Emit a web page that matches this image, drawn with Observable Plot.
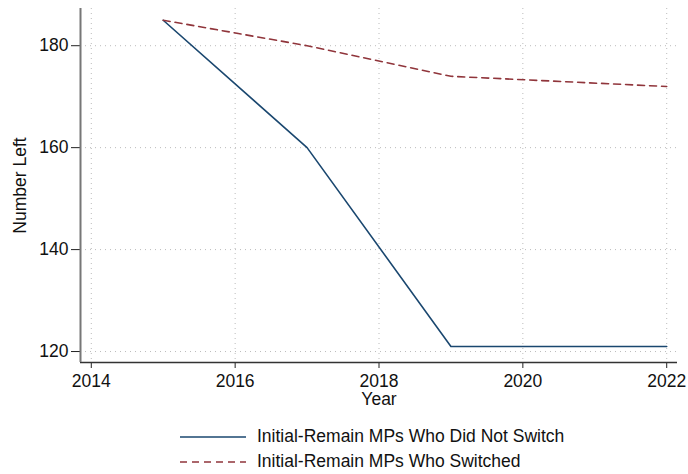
<!DOCTYPE html>
<html><head><meta charset="utf-8">
<script src="https://cdn.jsdelivr.net/npm/d3@7"></script>
<script src="https://cdn.jsdelivr.net/npm/@observablehq/plot@0.6"></script>
<style>
body{margin:0;background:#fff;font-family:"Liberation Sans",Arial,sans-serif;}
#chart svg text{font-size:17.5px;}
#legend{position:absolute;left:180px;top:424px;font-size:17.5px;color:#111;}
.row{display:flex;align-items:center;height:25px;}
.row svg{margin-right:11px;}
</style>
</head><body>
<div id="chart"></div>
<div id="legend"></div>
<script>
const years = [2015, 2017, 2019, 2022];
const notSwitched = [185, 160, 121, 121];
const switched = [185, 180, 174, 172];
const seriesNames = ["Initial-Remain MPs Who Did Not Switch", "Initial-Remain MPs Who Switched"];
const colors = ["#1a476f", "#90353b"];
const xTicks = [2014, 2016, 2018, 2020, 2022];
const yTicks = [120, 140, 160, 180];

const rows = [];
years.forEach((y, i) => rows.push({year: y, value: notSwitched[i], s: seriesNames[0]}));
years.forEach((y, i) => rows.push({year: y, value: switched[i], s: seriesNames[1]}));

const chart = Plot.plot({
  width: 688, height: 410,
  marginLeft: 80, marginRight: 11, marginTop: 8, marginBottom: 48,
  style: {fontFamily: '"Liberation Sans",Arial,sans-serif', fontSize: "17.5px", color: "#111"},
  x: {domain: [2013.85, 2022.15], ticks: xTicks, tickFormat: d => String(d), label: null},
  y: {domain: [117.85, 187.3], ticks: yTicks, label: null},
  marks: [
    Plot.gridX(xTicks, {stroke: "#bbb", strokeOpacity: 1, strokeDasharray: "1,4", strokeWidth: 1}),
    Plot.gridY(yTicks, {stroke: "#bbb", strokeOpacity: 1, strokeDasharray: "1,4", strokeWidth: 1}),
    Plot.axisX(xTicks, {tickSize: 6, tickPadding: 6, stroke: "#222", fontSize: 17.5, tickFormat: d => String(d)}),
    Plot.axisY(yTicks, {tickSize: 9, tickPadding: 3, stroke: "#222", fontSize: 17.5}),
    Plot.ruleY([117.85], {stroke: "#333", strokeWidth: 1.5}),
    Plot.ruleX([2013.85], {stroke: "#777", strokeWidth: 2}),
    Plot.text(["Year"], {frameAnchor: "bottom", lineAnchor: "middle", dy: 37, fontSize: 17.5}),
    Plot.text(["Number Left"], {frameAnchor: "left", textAnchor: "middle", lineAnchor: "middle", dx: -60, rotate: -90, fontSize: 17.5}),
    Plot.line(rows.filter(d => d.s === seriesNames[0]), {x: "year", y: "value", stroke: colors[0], strokeWidth: 1.6}),
    Plot.line(rows.filter(d => d.s === seriesNames[1]), {x: "year", y: "value", stroke: colors[1], strokeWidth: 1.6, strokeDasharray: "7,5"})
  ]
});
document.getElementById("chart").appendChild(chart);

const leg = document.getElementById("legend");
seriesNames.forEach((n, i) => {
  const r = document.createElement("div");
  r.className = "row";
  r.innerHTML = `<svg width="66" height="10"><line x1="0" x2="66" y1="5" y2="5" stroke="${colors[i]}" stroke-width="1.6" ${i ? 'stroke-dasharray="7,5"' : ''}/></svg><span>${n}</span>`;
  leg.appendChild(r);
});
</script>
</body></html>
